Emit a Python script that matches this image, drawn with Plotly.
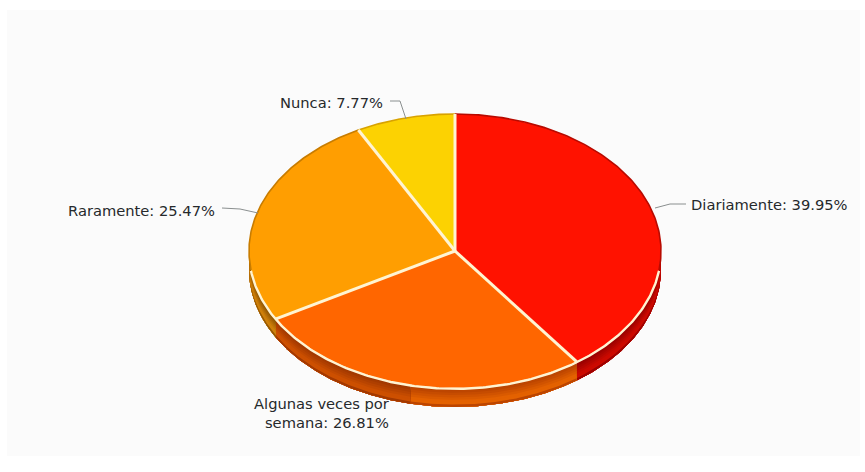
import numpy as np
import plotly.graph_objects as go

# Survey shares, in drawing order clockwise from twelve o'clock
categories = ["Diariamente", "Algunas veces por semana", "Raramente", "Nunca"]
shares = [39.95, 26.81, 25.47, 7.77]
tick_labels = ["Diariamente: 39.95%", "Algunas veces por<br>semana: 26.81%",
               "Raramente: 25.47%", "Nunca: 7.77%"]
top_colors = ["#ff1200", "#ff6600", "#ff9e01", "#fcd202"]
rim_colors = ["#b80a00", "#c85000", "#c87c00", "#d8a200"]

# Pie geometry on the page
CX, CY, RX, RY, DEPTH = 455.0, 251.0, 206.0, 137.0, 19.0
CREAM = "#fff4d2"

# Front wall pieces: slice index, start and end angle, dark and light shade
SEAM = 192.5
wall_pieces = [
    (0, None, None, (140, 0, 0), (205, 10, 0)),
    (1, None, SEAM, (175, 60, 0), (228, 98, 0)),
    (1, SEAM, None, (150, 50, 0), (205, 80, 0)),
    (2, None, None, (125, 72, 0), (208, 128, 10)),
]


def rim(theta_deg, drop=0.0):
    t = np.radians(theta_deg)
    return CX + RX * np.sin(t), CY - RY * np.cos(t) + drop


def arc(a, b, n=120):
    return np.linspace(a, b, max(n, 2))


fig = go.Figure()
edges = np.concatenate([[0.0], np.cumsum(shares)]) / sum(shares) * 360.0

# Front wall of the disc, drawn as stacked bands for a soft vertical shade
BANDS = 8
for i, start, end, dark, light in wall_pieces:
    a = max(edges[i], 90.0) if start is None else start
    b = min(edges[i + 1], 270.0) if end is None else end
    th = arc(a, b)
    for k in range(BANDS):
        f0 = k / BANDS
        mix = min(1.0, (k + 0.5) / (BANDS * 0.7)) if k < BANDS - 1 else 0.25
        col = tuple(int(d + (l - d) * mix) for d, l in zip(dark, light))
        x0, y0 = rim(th, DEPTH * f0)
        x1, y1 = rim(th[::-1], DEPTH)
        fig.add_trace(go.Scatter(
            x=np.concatenate([x0, x1]), y=np.concatenate([y0, y1]),
            mode="lines", fill="toself", fillcolor=f"rgb{col}",
            line=dict(width=0), hoverinfo="skip", showlegend=False))

# Top face of each slice
for i, name in enumerate(categories):
    th = arc(edges[i], edges[i + 1], 160)
    x, y = rim(th)
    fig.add_trace(go.Scatter(
        x=np.concatenate([[CX], x, [CX]]), y=np.concatenate([[CY], y, [CY]]),
        mode="lines", fill="toself", fillcolor=top_colors[i],
        line=dict(width=0), name=name, hoverinfo="skip", showlegend=False))

# Darker outline along the far side of the rim
for i in range(len(shares)):
    for a, b in [(edges[i], min(edges[i + 1], 98.0)), (max(edges[i], 262.0), edges[i + 1])]:
        if a < b:
            x, y = rim(arc(a, b))
            fig.add_trace(go.Scatter(x=x, y=y, mode="lines",
                                     line=dict(color=rim_colors[i], width=1.6),
                                     hoverinfo="skip", showlegend=False))

# Bright lip along the near side of the rim
x, y = rim(arc(98.0, 262.0, 240))
fig.add_trace(go.Scatter(x=x, y=y + 0.8, mode="lines", line=dict(color=CREAM, width=2.4),
                         hoverinfo="skip", showlegend=False))

# Separators between slices
for e in edges[1:]:
    x, y = rim(e)
    fig.add_trace(go.Scatter(x=[CX, x], y=[CY, y], mode="lines",
                             line=dict(color=CREAM, width=3),
                             hoverinfo="skip", showlegend=False))

# Leader lines from the labels to the slices
leaders = [
    ([655, 670, 686], [208, 204, 204]),
    ([222, 240, 258], [208, 209, 213]),
    ([390, 400, 406], [101, 101, 119]),
]
for lx, ly in leaders:
    fig.add_trace(go.Scatter(x=lx, y=ly, mode="lines", line=dict(color="#8a8f8f", width=1),
                             hoverinfo="skip", showlegend=False))

# Slice labels
label_x = [689, 392, 217, 385]
label_y = [204, 413, 210, 102]
anchors = ["left", "right", "right", "right"]
for text, lx, ly, anc in zip(tick_labels, label_x, label_y, anchors):
    fig.add_annotation(x=lx, y=ly, text=text, showarrow=False, xanchor=anc, yanchor="middle",
                       align=anc, font=dict(family="DejaVu Sans", size=14.7, color="#26292b"))

fig.update_layout(
    width=865, height=472, margin=dict(l=0, r=0, t=0, b=0),
    paper_bgcolor="#ffffff", plot_bgcolor="#ffffff", showlegend=False,
    xaxis=dict(range=[0, 865], visible=False, fixedrange=True),
    yaxis=dict(range=[472, 0], visible=False, fixedrange=True),
    shapes=[dict(type="rect", layer="below", x0=7, x1=860, y0=10, y1=456,
                 fillcolor="#fbfbfb", line=dict(width=0))],
)
fig.write_html("out.html", config=dict(displayModeBar=False))
